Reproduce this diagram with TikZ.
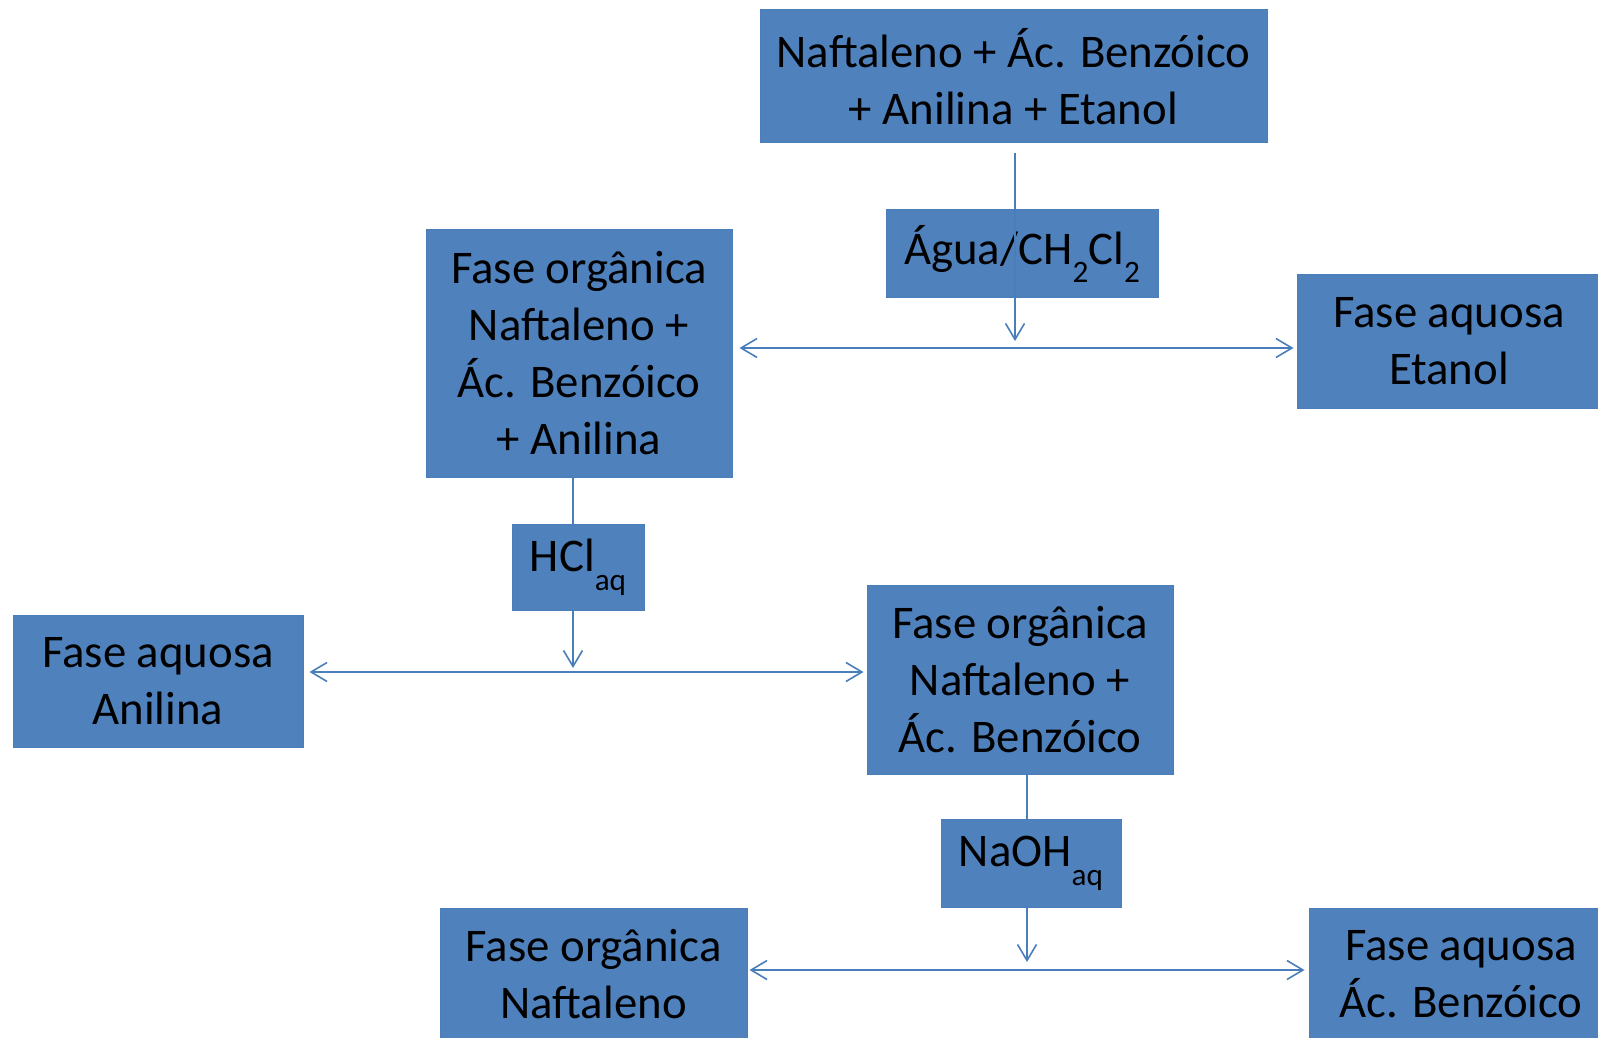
\documentclass[tikz,border=0pt]{standalone}
\usepackage{fontspec}
\setmainfont{Carlito}
\usetikzlibrary{arrows.meta}
\definecolor{boxblue}{HTML}{4F81BD}
\definecolor{edgeblue}{HTML}{4A7EBB}
\newcommand\sbs[1]{\raisebox{-0.4em}{\fontsize{15.6pt}{15.6pt}\selectfont #1}}
\begin{document}
\begin{tikzpicture}[x=0.5pt,y=-0.5pt,
  box/.style={fill=boxblue,draw=edgeblue,line width=0.5pt,inner sep=0pt,align=center,font=\fontsize{23.4pt}{28.5pt}\selectfont},
  conn/.style={draw=edgeblue,line width=0.8pt},
  arr/.style={conn,-{Straight Barb[length=8pt,width=9.5pt]}},
  darr/.style={conn,{Straight Barb[length=8pt,width=9.5pt]}-{Straight Barb[length=8pt,width=9.5pt]}}]
\useasboundingbox (0,0) rectangle (1598,1037);
\fill[white] (0,0) rectangle (1598,1037);
\node[box,minimum width=253.5pt,minimum height=66.5pt] (top) at (1013.5,76.5) {Naftaleno + Ác. Benzóico\\+ Anilina + Etanol};
\node[box,minimum width=136pt,minimum height=44pt] (agua) at (1022,254) {Água/CH\sbs{2}Cl\sbs{2}};
\node[box,minimum width=153pt,minimum height=123.5pt] (org1) at (579,353.5) {Fase orgânica\\Naftaleno +\\Ác. Benzóico\\+ Anilina};
\node[box,minimum width=152pt,minimum height=66.5pt] (aq1) at (1449,341.5) {Fase aquosa\\Etanol};
\node[box,minimum width=66pt,minimum height=43pt] (hcl) at (578,567) {HCl\sbs{aq}};
\node[box,minimum width=145pt,minimum height=66pt] (aq2) at (158,681) {Fase aquosa\\Anilina};
\node[box,minimum width=153pt,minimum height=94.5pt] (org2) at (1020,679.5) {Fase orgânica\\Naftaleno +\\Ác. Benzóico};
\node[box,minimum width=90pt,minimum height=44pt] (naoh) at (1031,863) {NaOH\sbs{aq}};
\node[box,minimum width=153.5pt,minimum height=66.5pt] (org3) at (593.5,974.5) {Fase orgânica\\Naftaleno};
\node[box,minimum width=152pt,minimum height=66.5pt] (aq3) at (1461,974.5) {Fase aquosa\\Ác. Benzóico};
\coordinate (j1) at (1015,348);
\coordinate (j2) at (573,672);
\coordinate (j3) at (1027,970);
\draw[arr,shorten <=5pt,shorten >=3.5pt] (top.south -| j1) -- (j1);
\draw[darr,shorten <=3.5pt,shorten >=1.5pt] (org1.east |- j1) -- (aq1.west |- j1);
\draw[conn] (org1.south -| j2) -- (hcl.north -| j2);
\draw[arr,shorten >=2pt] (hcl.south -| j2) -- (j2);
\draw[darr,shorten <=3pt,shorten >=1.5pt] (aq2.east |- j2) -- (org2.west |- j2);
\draw[conn] (org2.south -| j3) -- (naoh.north -| j3);
\draw[arr,shorten >=4pt] (naoh.south -| j3) -- (j3);
\draw[darr,shorten <=1pt,shorten >=2pt] (org3.east |- j3) -- (aq3.west |- j3);
\end{tikzpicture}
\end{document}
